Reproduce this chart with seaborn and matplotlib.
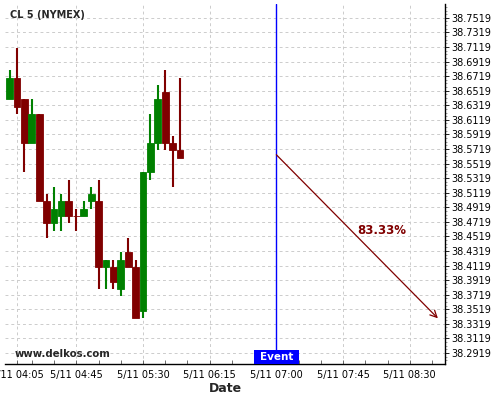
import matplotlib
matplotlib.use("Agg")
import matplotlib.pyplot as plt
import seaborn as sns
import numpy as np
from matplotlib.ticker import FixedLocator
from matplotlib.patches import Rectangle

sns.set_style("whitegrid")
plt.rcParams["font.family"] = ["DejaVu Sans"]

# candle times, minutes after 04:00 on 5/11
minutes = [0, 5, 10, 15, 20, 25, 30, 35, 40, 45, 50, 55,
           60, 65, 70, 75, 80, 85, 90, 95, 100, 105, 110, 115]
opens = [38.64, 38.67, 38.64, 38.58, 38.62, 38.50, 38.47, 38.48, 38.50, 38.48, 38.48, 38.50,
         38.50, 38.41, 38.41, 38.38, 38.43, 38.41, 38.35, 38.54, 38.58, 38.65, 38.58, 38.57]
closes = [38.67, 38.63, 38.58, 38.62, 38.50, 38.47, 38.49, 38.50, 38.48, 38.48, 38.49, 38.51,
          38.41, 38.42, 38.39, 38.42, 38.41, 38.34, 38.54, 38.58, 38.64, 38.58, 38.57, 38.56]
highs = [38.68, 38.71, 38.64, 38.64, 38.62, 38.51, 38.52, 38.51, 38.53, 38.49, 38.50, 38.52,
         38.53, 38.42, 38.42, 38.43, 38.45, 38.42, 38.54, 38.62, 38.66, 38.68, 38.59, 38.67]
lows = [38.64, 38.62, 38.54, 38.58, 38.50, 38.45, 38.46, 38.46, 38.47, 38.46, 38.48, 38.49,
        38.38, 38.38, 38.38, 38.37, 38.41, 38.34, 38.34, 38.53, 38.57, 38.57, 38.52, 38.56]

x_ticks = [5, 45, 90, 135, 180, 225, 270]
x_labels = ["5/11 04:05", "5/11 04:45", "5/11 05:30", "5/11 06:15",
            "5/11 07:00", "5/11 07:45", "5/11 08:30"]
x_minor = [15, 30, 60, 75, 105, 120, 150, 165, 195, 210, 240, 255, 285]
y_labels = ["38.2919", "38.3119", "38.3319", "38.3519", "38.3719", "38.3919",
            "38.4119", "38.4319", "38.4519", "38.4719", "38.4919", "38.5119",
            "38.5319", "38.5519", "38.5719", "38.5919", "38.6119", "38.6319",
            "38.6519", "38.6719", "38.6919", "38.7119", "38.7319", "38.7519",
            "38.7719"]

event_minute = 180
arrow_start = (180, 38.564)
arrow_end = (289, 38.3395)
probability = "83.33%"

red = "#800000"
green = "#008000"

fig = plt.figure(figsize=(5, 4), dpi=100)
ax = fig.add_axes([0.01, 0.09, 0.8806, 0.90])

colors = [green if c > o else red for o, c in zip(opens, closes)]

ax.vlines(minutes, lows, highs, colors=colors, linewidth=1.5, zorder=2)
ax.bar(minutes, np.array(closes) - np.array(opens), bottom=opens, width=4.6,
       color=colors, edgecolor=colors, linewidth=0.6, zorder=3)

# event line and forecast arrow
ax.axvline(event_minute, color="#0000ff", linewidth=1, zorder=4)
ax.annotate("", xy=arrow_end, xytext=arrow_start,
            arrowprops=dict(arrowstyle="->", color=red, lw=0.9,
                            mutation_scale=12, shrinkA=0, shrinkB=0),
            zorder=5)
ax.text(251, 38.4607, probability, color=red, fontsize=8.5,
        fontweight="bold", ha="center", va="center", zorder=6)

trans = ax.get_xaxis_transform()
ax.add_patch(Rectangle((165, 0), 30, 0.039, transform=trans,
                       facecolor="#0000ff", edgecolor="none", zorder=6,
                       clip_on=False))
ax.text(180, 0.0195, "Event", transform=trans, color="white", fontsize=7.5,
        fontweight="bold", ha="center", va="center", zorder=7)

ax.text(0.011, 0.969, "CL 5 (NYMEX)", transform=ax.transAxes, fontsize=7,
        fontweight="bold", ha="left", va="center")
ax.text(0.023, 0.028, "www.delkos.com", transform=ax.transAxes, fontsize=7.3,
        fontweight="bold", ha="left", va="center")

ax.set_xlim(-3.1, 294)
ax.set_ylim(38.2768, 38.7709)

ax.xaxis.set_major_locator(FixedLocator(x_ticks))
ax.set_xticklabels(x_labels)
ax.xaxis.set_minor_locator(FixedLocator(x_minor))
y_values = [float(v) for v in y_labels]
ax.yaxis.set_major_locator(FixedLocator(y_values))
ax.set_yticklabels(y_labels)
ax.yaxis.set_minor_locator(FixedLocator(np.arange(38.2819, 38.775, 0.005)))
ax.yaxis.tick_right()

ax.tick_params(axis="both", which="major", labelsize=7, colors="black")
ax.tick_params(axis="x", which="both", direction="in", length=3, width=0.6,
               bottom=True, color="#555555")
ax.tick_params(axis="y", which="major", direction="out", length=3, width=0.6,
               right=True, pad=1)
ax.tick_params(axis="y", which="minor", direction="out", length=1.5,
               width=0.5, right=True, color="#777777")
ax.tick_params(axis="x", which="major", pad=4)

ax.grid(True, which="major", color="#cccccc", linestyle=(0, (3, 3)),
        linewidth=0.7)
ax.grid(False, which="minor")

for side in ["left", "top"]:
    ax.spines[side].set_visible(False)
for side in ["right", "bottom"]:
    ax.spines[side].set_color("black")
    ax.spines[side].set_linewidth(1)

ax.set_xlabel("Date", fontsize=9, fontweight="bold", labelpad=2)

fig.savefig("out.png", dpi=100, facecolor="white")
plt.close(fig)
